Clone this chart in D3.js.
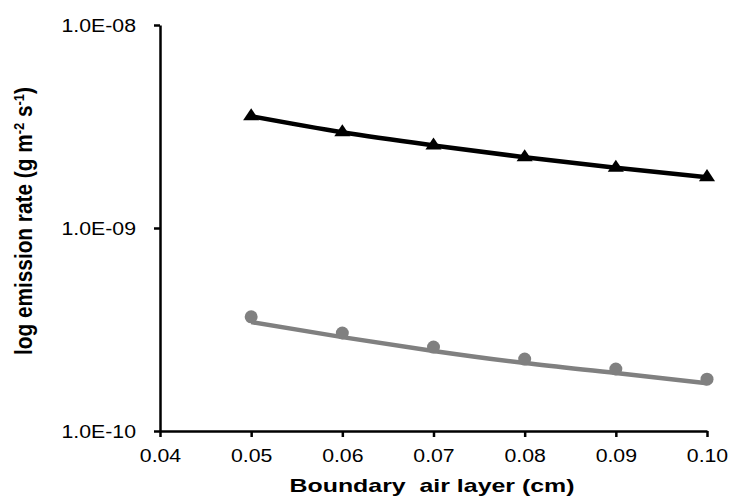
<!DOCTYPE html>
<html>
<head>
<meta charset="utf-8">
<script src="https://cdn.jsdelivr.net/npm/d3@7"></script>
<style>
  body { margin: 0; background: #fff; }
  text { font-family: "Liberation Sans", Arial, sans-serif; }
</style>
</head>
<body>
<div id="wrapper"></div>
<script>
// x values (boundary air layer, cm)
const xValues = [0.05, 0.06, 0.07, 0.08, 0.09, 0.10]
// black series (triangles)
const blackValues = [3.55e-9, 2.96e-9, 2.55e-9, 2.23e-9, 1.98e-9, 1.78e-9]
// grey series (circles) and its trend line
const greyValues = [3.65e-10, 3.04e-10, 2.59e-10, 2.26e-10, 2.02e-10, 1.80e-10]
const greyTrend = [3.44e-10, 2.90e-10, 2.48e-10, 2.16e-10, 1.93e-10, 1.72e-10]
const xTicks = [0.04, 0.05, 0.06, 0.07, 0.08, 0.09, 0.10]
const yTicks = [1e-10, 1e-9, 1e-8]

const W = 729, H = 497
const margin = {top: 25, right: 22, bottom: 66, left: 160}
const width = W - margin.left - margin.right,
      height = H - margin.top - margin.bottom
const stretch = 1.15  // the picture's text is wider than it is tall

const svg = d3.select("#wrapper").append("svg")
    .attr("width", W).attr("height", H)
const g = svg.append("g")
    .attr("transform", `translate(${margin.left},${margin.top})`)

const x = d3.scaleLinear().domain([0.04, 0.10]).range([0, width])
const y = d3.scaleLog().domain([1e-10, 1e-8]).range([height, 0])

// axes
const xAxis = g.append("g")
    .attr("transform", `translate(0,${height})`)
    .call(d3.axisBottom(x).tickValues(xTicks).tickFormat(d3.format(".2f")).tickSize(6).tickSizeOuter(0))
const yAxis = g.append("g")
    .call(d3.axisLeft(y).tickValues(yTicks).tickFormat(d => d.toExponential(1).replace("e-", "E-0").replace("E-010", "E-10")).tickSize(6).tickSizeOuter(0))

for (const ax of [xAxis, yAxis]) {
    ax.attr("font-size", null).attr("font-family", null)
    ax.select(".domain").attr("stroke", "#000").attr("stroke-width", 2.5)
    ax.selectAll(".tick line").attr("stroke", "#000").attr("stroke-width", 2.5)
    ax.selectAll(".tick text")
        .style("font-size", "18.5px")
        .style("font-family", "'Liberation Sans', Arial, sans-serif")
        .attr("fill", "#000")
        .attr("transform", `scale(${stretch},1)`)
}
xAxis.selectAll(".tick text").attr("y", 31).attr("dy", 0)
yAxis.selectAll(".tick text").attr("x", -24 / stretch).attr("dy", "0.36em")

// grey trend line + circles
const line = d3.line().x((d, i) => x(xValues[i])).y(d => y(d)).curve(d3.curveMonotoneX)
g.append("path").datum(greyTrend)
    .attr("d", line).attr("fill", "none")
    .attr("stroke", "#808080").attr("stroke-width", 4.5)
g.selectAll(".dot").data(greyValues).enter().append("circle")
    .attr("cx", (d, i) => x(xValues[i])).attr("cy", d => y(d))
    .attr("r", 6.5).attr("fill", "#808080")

// black line + triangles
g.append("path").datum(blackValues)
    .attr("d", line).attr("fill", "none")
    .attr("stroke", "#000").attr("stroke-width", 4.5)
const tri = d3.symbol().type(d3.symbolTriangle).size(85)
g.selectAll(".tri").data(blackValues).enter().append("path")
    .attr("d", tri)
    .attr("transform", (d, i) => `translate(${x(xValues[i])},${y(d)}) scale(1.15,1)`)
    .attr("fill", "#000")

// axis titles
svg.append("text")
    .attr("x", 432).attr("y", 492)
    .attr("text-anchor", "middle")
    .style("font-size", "19px").style("font-weight", "bold")
    .attr("xml:space", "preserve")
    .attr("textLength", 285).attr("lengthAdjust", "spacingAndGlyphs")
    .text("Boundary  air layer (cm)")

const yt = svg.append("text")
    .attr("transform", `translate(32,221) scale(1.17,1) rotate(-90)`)
    .attr("text-anchor", "middle")
    .style("font-size", "20.8px").style("font-weight", "bold")
yt.append("tspan").text("log emission rate (g m")
yt.append("tspan").attr("dy", -7).style("font-size", "13px").text("-2")
yt.append("tspan").attr("dy", 7).text(" s")
yt.append("tspan").attr("dy", -7).style("font-size", "13px").text("-1")
yt.append("tspan").attr("dy", 7).text(")")
</script>
</body>
</html>
